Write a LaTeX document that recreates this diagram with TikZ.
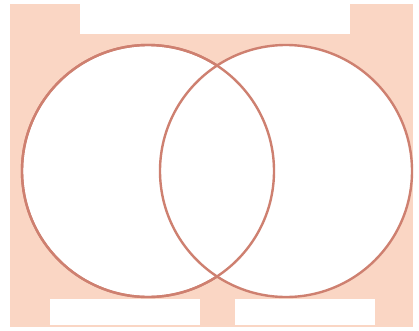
\documentclass[tikz,border=0pt]{standalone}
\usepackage{tikz}
\usetikzlibrary{positioning}

\definecolor{peach}{RGB}{250,214,196}
\definecolor{rimred}{RGB}{206,128,112}

\begin{document}
\begin{tikzpicture}[x=1pt,y=-1pt,
  ring/.style={circle,draw=rimred,line width=2.4pt,fill=white,minimum size=252pt,inner sep=0pt},
  labelbar/.style={fill=white,draw=none}]
  \useasboundingbox (0,0) rectangle (419,330);
  \fill[white] (0,0) rectangle (419,330);
  \fill[peach] (10,4) rectangle (413,327);
  % label areas
  \node[labelbar,minimum width=270pt,minimum height=30pt] (toplbl) at (215,19) {};
  \node[labelbar,minimum width=150pt,minimum height=26pt] (leftlbl) at (125,312) {};
  \node[labelbar,minimum width=140pt,minimum height=26pt] (rightlbl) at (305,312) {};
  % the two sets
  \node[ring] (setA) at (148,171) {};
  \node[ring] (setB) at (286,171) {};
  \draw[rimred,line width=2.4pt] (setA) circle[radius=126pt];
\end{tikzpicture}
\end{document}
